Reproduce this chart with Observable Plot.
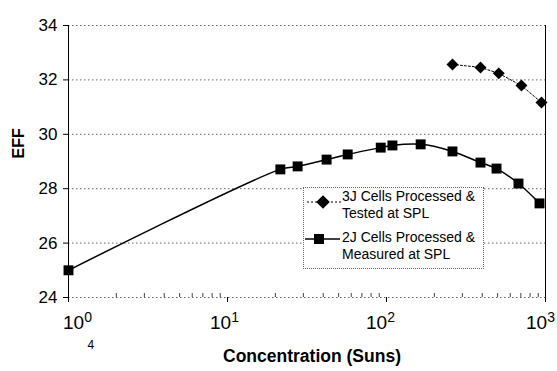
<!DOCTYPE html>
<html>
<head>
<meta charset="utf-8">
<script src="https://cdn.jsdelivr.net/npm/d3@7"></script>
<script src="https://cdn.jsdelivr.net/npm/@observablehq/plot@0.6"></script>
<style>
  html, body { margin: 0; padding: 0; background: white; }
  #wrap { position: relative; width: 557px; height: 371px; font-family: "Liberation Sans", Arial, sans-serif; }
  #wrap svg text { font-family: "Liberation Sans", Arial, sans-serif; }
  #legend { position: absolute; left: 303px; top: 187px; width: 179px; height: 80px; border: 1px dotted #666; background: white; font-size: 14px; color: black; font-family: "Liberation Sans", Arial, sans-serif; }
  #legend .t { position: absolute; left: 38px; line-height: 17px; white-space: nowrap; }
  #legend svg { position: absolute; left: 0; top: 0; }
</style>
</head>
<body>
<div id="wrap"></div>
<script>
// Data
const conc2J = [1, 21.5, 27.6, 42, 57, 92, 109, 164, 260, 390, 492, 676, 917];
const eff2J  = [25.0, 28.71, 28.82, 29.07, 29.26, 29.51, 29.59, 29.63, 29.37, 28.96, 28.74, 28.19, 27.46];
const conc3J = [260, 390, 508, 706, 944];
const eff3J  = [32.57, 32.46, 32.24, 31.79, 31.17];

const yTicks = [24, 26, 28, 30, 32, 34];
const xTicks = [1, 10, 100, 1000];
const xTickExponents = ["0", "1", "2", "3"];
const minorTicks = [2,3,4,5,6,7,8,9,20,30,40,50,60,70,80,90,200,300,400,500,600,700,800,900];

const legendLabels2J = ["2J Cells Processed &", "Measured at SPL"];
const legendLabels3J = ["3J Cells Processed &", "Tested at SPL"];

const data2J = conc2J.map((c, i) => ({conc: c, eff: eff2J[i]}));
const data3J = conc3J.map((c, i) => ({conc: c, eff: eff3J[i]}));

const chart = Plot.plot({
  width: 557,
  height: 371,
  marginLeft: 68,
  marginRight: 12,
  marginTop: 25,
  marginBottom: 74,
  style: { fontFamily: "Liberation Sans, Arial, sans-serif", background: "white", color: "black", overflow: "visible" },
  x: { type: "log", domain: [1, 1000] },
  y: { domain: [24, 34] },
  marks: [
    Plot.gridY(yTicks, { stroke: "#666", strokeOpacity: 1, strokeDasharray: "1.5,2.5", strokeWidth: 1 }),
    Plot.ruleX([1], { stroke: "black", strokeWidth: 1 }),
    Plot.ruleX([1000], { stroke: "black", strokeWidth: 1 }),
    Plot.tickX(minorTicks, { x: d => d, insetTop: 268, stroke: "#444", strokeWidth: 1 }),
    Plot.axisY({ ticks: yTicks, tickSize: 5, tickPadding: 6, fontSize: 17, label: null, tickFormat: d => String(d) }),
    Plot.axisX({ ticks: xTicks, tickSize: 5, tickPadding: 13, fontSize: 19, label: null, tickFormat: d => "10" }),
    Plot.line(data3J, { x: "conc", y: "eff", stroke: "black", strokeWidth: 1, strokeDasharray: "2,2" }),
    Plot.dot(data3J, { x: "conc", y: "eff", symbol: "diamond2", r: 5.4, fill: "black", stroke: "none" }),
    Plot.line(data2J, { x: "conc", y: "eff", stroke: "black", strokeWidth: 1.5, curve: "catmull-rom" }),
    Plot.dot(data2J, { x: "conc", y: "eff", symbol: "square", r: 5.6, fill: "black", stroke: "none" }),
    Plot.text(["Concentration (Suns)"], { frameAnchor: "bottom", dx: 5, dy: 64, fontSize: 17.5, fontWeight: "bold", fill: "black" }),
    Plot.text(["EFF"], { frameAnchor: "left", dx: -50, dy: -3, rotate: -90, fontSize: 16, fontWeight: "bold", fill: "black" }),
    Plot.text(["4"], { frameAnchor: "bottom-left", dx: 19, dy: 51, fontSize: 12, fill: "black" })
  ]
});

// superscript exponents on x tick labels, with small offsets as in the reference
const labelShift = [9, -3, -6, -5];
chart.querySelectorAll('g[aria-label="x-axis tick label"] text').forEach((t, i) => {
  const ns = "http://www.w3.org/2000/svg";
  const sup = document.createElementNS(ns, "tspan");
  sup.setAttribute("dy", "-7");
  sup.setAttribute("font-size", "14");
  sup.textContent = xTickExponents[i];
  t.appendChild(sup);
  t.setAttribute("dx", labelShift[i]);
});

const wrap = document.getElementById("wrap");
wrap.appendChild(chart);

// Legend inside the plot area
const legend = document.createElement("div");
legend.id = "legend";
legend.innerHTML = `
  <svg width="40" height="80">
    <line x1="3" x2="38" y1="14" y2="14" stroke="black" stroke-width="1" stroke-dasharray="2,2"></line>
    <path d="M19,7.2L25.8,14L19,20.8L12.2,14Z" fill="black"></path>
    <line x1="1" x2="36" y1="51" y2="51" stroke="black" stroke-width="1.5"></line>
    <rect x="10" y="46" width="10" height="10" fill="black"></rect>
  </svg>
  <div class="t" style="top:0px">${legendLabels3J[0]}<br>${legendLabels3J[1]}</div>
  <div class="t" style="top:41px">${legendLabels2J[0]}<br>${legendLabels2J[1]}</div>
`;
wrap.appendChild(legend);
</script>
</body>
</html>
